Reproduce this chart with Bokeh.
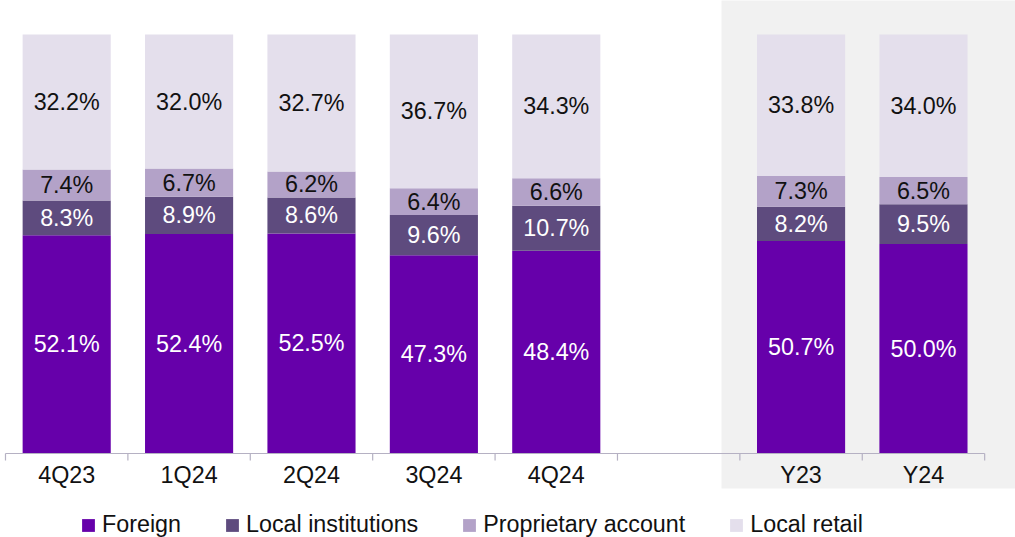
from bokeh.plotting import figure
from bokeh.models import ColumnDataSource, Legend, LegendItem, Range1d
from bokeh.core.properties import value
from bokeh.embed import file_html
from bokeh.resources import INLINE

# ---- data ----
slots = ["4Q23", "1Q24", "2Q24", "3Q24", "4Q24", "", "Y23", "Y24"]
periods = ["4Q23", "1Q24", "2Q24", "3Q24", "4Q24", "Y23", "Y24"]
annual_periods = ["Y23", "Y24"]
series_names = ["Foreign", "Local institutions", "Proprietary account", "Local retail"]
foreign = [52.1, 52.4, 52.5, 47.3, 48.4, 50.7, 50.0]
local_institutions = [8.3, 8.9, 8.6, 9.6, 10.7, 8.2, 9.5]
proprietary_account = [7.4, 6.7, 6.2, 6.4, 6.6, 7.3, 6.5]
local_retail = [32.2, 32.0, 32.7, 36.7, 34.3, 33.8, 34.0]

colors = ["#6600aa", "#5e4b7e", "#b3a2c8", "#e4dfec"]
label_colors = ["white", "white", "#111111", "#111111"]
FONT = "Liberation Sans"
FS = "23.3px"

series_values = [foreign, local_institutions, proprietary_account, local_retail]
keys = ["foreign", "local_inst", "prop", "retail"]

xs = [slots.index(p) + 0.5 for p in periods]
data = {"x": xs, "period": periods}
for k, v in zip(keys, series_values):
    data[k] = v
src = ColumnDataSource(data)

p = figure(width=1015, height=537, output_backend="svg", toolbar_location=None,
           x_axis_type=None, y_axis_type=None, min_border=0,
           x_range=Range1d(-0.0408, 8.252), y_range=Range1d(-20.05, 108.11))
p.outline_line_color = None
p.background_fill_color = "white"
p.border_fill_color = "white"

# shaded annual panel
first_annual = slots.index(annual_periods[0])
p.quad(left=[first_annual - 0.15], right=[len(slots) + 0.5], bottom=[-8.35], top=[120],
       fill_color="#f1f1f1", line_color=None)

renderers = p.vbar_stack(keys, x="x", width=0.72, source=src, color=colors, line_color=None)

# segment labels
bottoms = [0.0] * len(periods)
for vals, col in zip(series_values, label_colors):
    centers = [b + v / 2 for b, v in zip(bottoms, vals)]
    texts = [f"{v:.1f}%" for v in vals]
    p.text(x=xs, y=centers, text=texts, text_color=col, text_font=value(FONT),
           text_font_size=FS, text_align="center", text_baseline="middle")
    bottoms = [b + v for b, v in zip(bottoms, vals)]

# category axis drawn with the plot's scales
n = len(slots)
p.segment(x0=[0], y0=[0], x1=[n], y1=[0], line_color="#b5b1c3", line_width=1.2)
p.segment(x0=list(range(n + 1)), y0=[0] * (n + 1), x1=list(range(n + 1)), y1=[-1.7] * (n + 1),
          line_color="#b5b1c3", line_width=1.2)
lab_x = [i + 0.5 for i, s in enumerate(slots) if s]
lab_t = [s for s in slots if s]
p.text(x=lab_x, y=[-5.2] * len(lab_x), text=lab_t, text_color="#111111", text_font=value(FONT),
       text_font_size=FS, text_align="center", text_baseline="middle")

legend = Legend(items=[LegendItem(label=nm, renderers=[r]) for nm, r in zip(series_names, renderers)],
                orientation="horizontal", location=(80, -1), spacing=43, padding=0, margin=0,
                glyph_width=16, glyph_height=16, label_height=16, label_standoff=6,
                label_text_font=FONT, label_text_font_size=FS, label_text_color="#111111",
                border_line_color=None, background_fill_alpha=0)
p.add_layout(legend, "center")

open("out.html", "w").write(file_html(p, INLINE))
